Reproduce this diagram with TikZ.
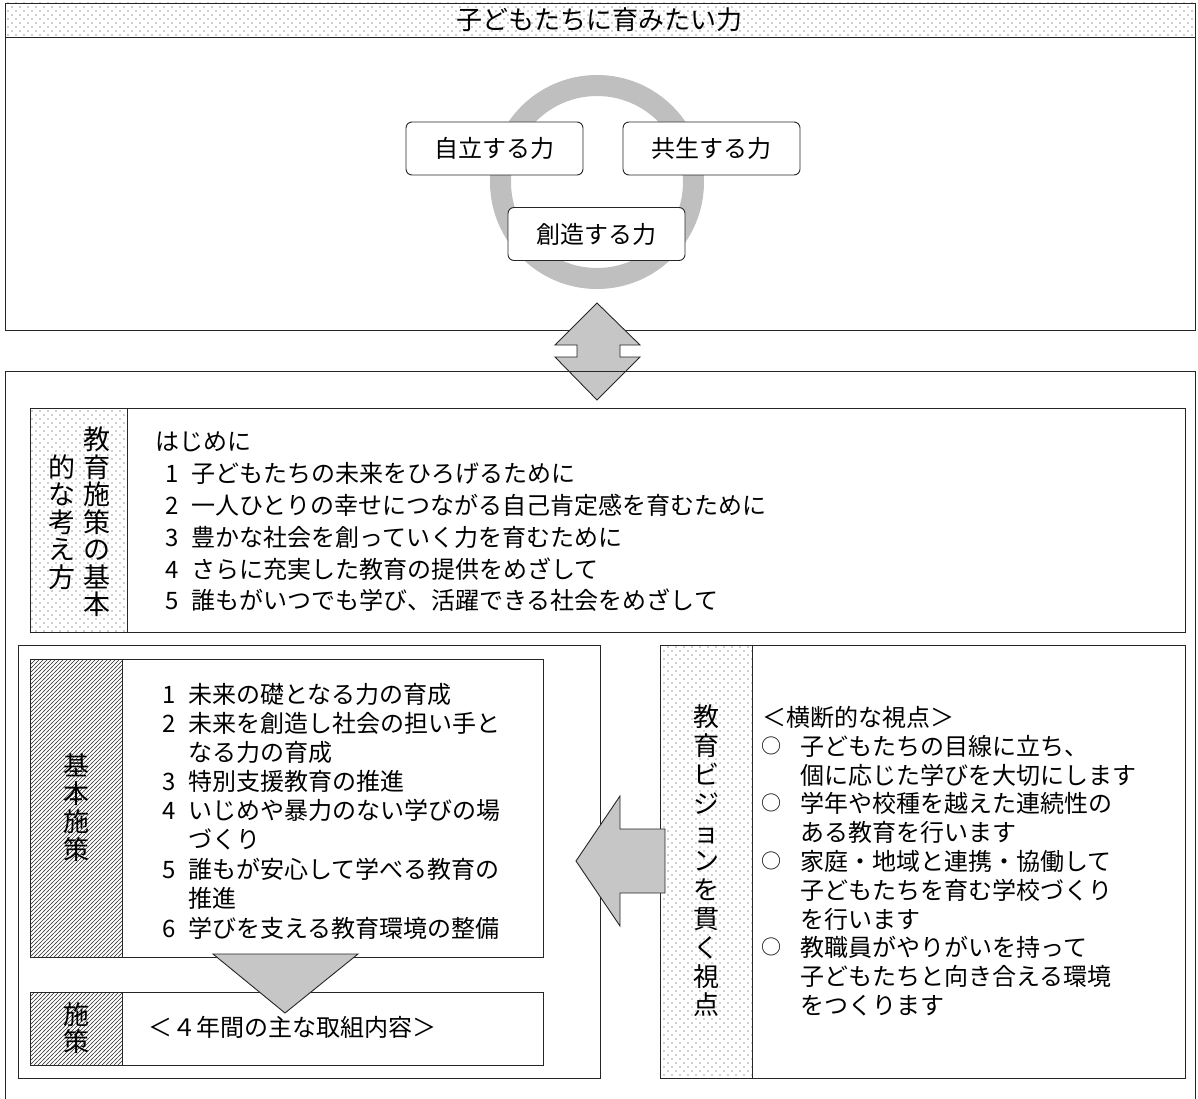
\documentclass[tikz,border=0pt]{standalone}
\usepackage{fontspec}
\setmainfont{Noto Sans CJK JP}
\usetikzlibrary{patterns}
\pgfdeclarepatternformonly{sparsedots}{\pgfqpoint{-1pt}{-1pt}}{\pgfqpoint{9pt}{9pt}}{\pgfqpoint{8pt}{8pt}}{%
  \pgfpathcircle{\pgfqpoint{0pt}{0pt}}{0.7pt}%
  \pgfpathcircle{\pgfqpoint{4pt}{4pt}}{0.7pt}%
  \pgfusepath{fill}}
\pgfdeclarepatternformonly{hatchlines}{\pgfqpoint{-1pt}{-1pt}}{\pgfqpoint{5pt}{5pt}}{\pgfqpoint{4pt}{4pt}}{%
  \pgfsetlinewidth{0.55pt}%
  \pgfpathmoveto{\pgfqpoint{-0.5pt}{-0.5pt}}%
  \pgfpathlineto{\pgfqpoint{4.5pt}{4.5pt}}%
  \pgfusepath{stroke}}
\newcommand\bodyfs{\fontsize{24}{24}\selectfont}
\newcommand\nb[1]{\makebox[26pt][l]{#1}}
\newcommand\maru{\makebox[39pt][l]{\raisebox{1.4pt}{\fontsize{20}{20}\selectfont ○}}}
\begin{document}
\begin{tikzpicture}[x=1pt,y=-1pt,
  frame/.style={draw=black!85, line width=0.9pt},
  dotarea/.style={pattern=sparsedots, pattern color=black!80},
  hatcharea/.style={pattern=hatchlines, pattern color=black!80},
  tone/.style={fill=gray!45},
  pbox/.style={draw=black!85, line width=0.9pt, rounded corners=6pt, fill=white, minimum width=177pt, minimum height=53pt, inner sep=0pt, font=\fontsize{24}{24}\selectfont},
  vlab/.style={align=center, inner sep=0pt},
  ln/.style={anchor=base west, inner sep=0pt, font=\bodyfs}
]
\useasboundingbox (0,0) rectangle (1198,1099);
% ---------- top part
\fill[dotarea] (5,3) rectangle (1195,37);
\draw[frame] (5,3) rectangle (1195,330);
\draw[frame] (5,37) -- (1195,37);
\node[inner sep=0pt, font=\fontsize{26}{26}\selectfont] (title) at (599,20) {子どもたちに育みたい力};
\draw[gray!50, line width=21pt] (597,182) circle[radius=96.5];
\node[pbox] (jiritsu) at (494.5,148.5) {自立する力};
\node[pbox] (kyosei) at (711.5,148.5) {共生する力};
\node[pbox] (sozo) at (596.5,234) {創造する力};
% ---------- double arrow
\draw[frame, tone] (597,303) -- (640,345) -- (620,345) -- (620,357) -- (640,357) -- (597,400)
  -- (555,357) -- (577,357) -- (577,345) -- (555,345) -- cycle;
% ---------- lower frame
\draw[frame] (5,1099) -- (5,371) -- (1195,371) -- (1195,1099);
% ---------- basic idea box
\fill[dotarea] (30,408) rectangle (127,632);
\draw[frame] (30,408) rectangle (1185,632);
\draw[frame] (127,408) -- (127,632);
\node[vlab, font=\fontsize{27}{27.5}\selectfont] (kcolA) at (97,522) {教\\育\\施\\策\\の\\基\\本};
\node[vlab, font=\fontsize{27}{27.5}\selectfont] (kcolB) at (62,522) {的\\な\\考\\え\\方};
\node[ln] (k0) at (155,450) {はじめに};
\node[ln] (k1) at (165,482) {\nb{1}子どもたちの未来をひろげるために};
\node[ln] (k2) at (165,514) {\nb{2}一人ひとりの幸せにつながる自己肯定感を育むために};
\node[ln] (k3) at (165,546) {\nb{3}豊かな社会を創っていく力を育むために};
\node[ln] (k4) at (165,578) {\nb{4}さらに充実した教育の提供をめざして};
\node[ln] (k5) at (165,609) {\nb{5}誰もがいつでも学び、活躍できる社会をめざして};
% ---------- basic measures
\draw[frame] (18,645) rectangle (600,1078);
\fill[hatcharea] (30,659) rectangle (122,957);
\draw[frame] (30,659) rectangle (543,957);
\draw[frame] (122,659) -- (122,957);
\node[vlab, font=\fontsize{26}{28}\selectfont] (bcol) at (76,808) {基\\本\\施\\策};
\node[ln] (b1) at (162,703) {\nb{1}未来の礎となる力の育成};
\node[ln] (b2) at (162,732) {\nb{2}未来を創造し社会の担い手と};
\node[ln] (b3) at (188,761) {なる力の育成};
\node[ln] (b4) at (162,790) {\nb{3}特別支援教育の推進};
\node[ln] (b5) at (162,819) {\nb{4}いじめや暴力のない学びの場};
\node[ln] (b6) at (188,848) {づくり};
\node[ln] (b7) at (162,878) {\nb{5}誰もが安心して学べる教育の};
\node[ln] (b8) at (188,907) {推進};
\node[ln] (b9) at (162,937) {\nb{6}学びを支える教育環境の整備};
% measures box
\fill[hatcharea] (30,992) rectangle (122,1065);
\draw[frame] (30,992) rectangle (543,1065);
\draw[frame] (122,992) -- (122,1065);
\node[vlab, font=\fontsize{26}{27}\selectfont] (scol) at (76,1028) {施\\策};
\node[ln] (s1) at (148,1036) {＜４年間の主な取組内容＞};
% down triangle
\draw[frame, tone] (213,954) -- (358,954) -- (285,1013) -- cycle;
% ---------- vision box
\fill[dotarea] (660,645) rectangle (752,1078);
\draw[frame] (660,645) rectangle (1185,1078);
\draw[frame] (752,645) -- (752,1078);
\node[vlab, font=\fontsize{26}{28.8}\selectfont] (vcol) at (706,861) {教\\育\\ビ\\ジ\\ョ\\ン\\を\\貫\\く\\視\\点};
\node[ln] (v0) at (762,726) {＜横断的な視点＞};
\node[ln] (v1) at (761,755) {\maru 子どもたちの目線に立ち、};
\node[ln] (v2) at (800,784) {個に応じた学びを大切にします};
\node[ln] (v3) at (761,812) {\maru 学年や校種を越えた連続性の};
\node[ln] (v4) at (800,841) {ある教育を行います};
\node[ln] (v5) at (761,870) {\maru 家庭・地域と連携・協働して};
\node[ln] (v6) at (800,899) {子どもたちを育む学校づくり};
\node[ln] (v7) at (800,928) {を行います};
\node[ln] (v8) at (761,956) {\maru 教職員がやりがいを持って};
\node[ln] (v9) at (800,985) {子どもたちと向き合える環境};
\node[ln] (v10) at (800,1014) {をつくります};
% ---------- left arrow
\draw[frame, tone] (576,861) -- (620,796) -- (620,829) -- (665,829) -- (665,893) -- (620,893) -- (620,926) -- cycle;
\end{tikzpicture}
\end{document}
